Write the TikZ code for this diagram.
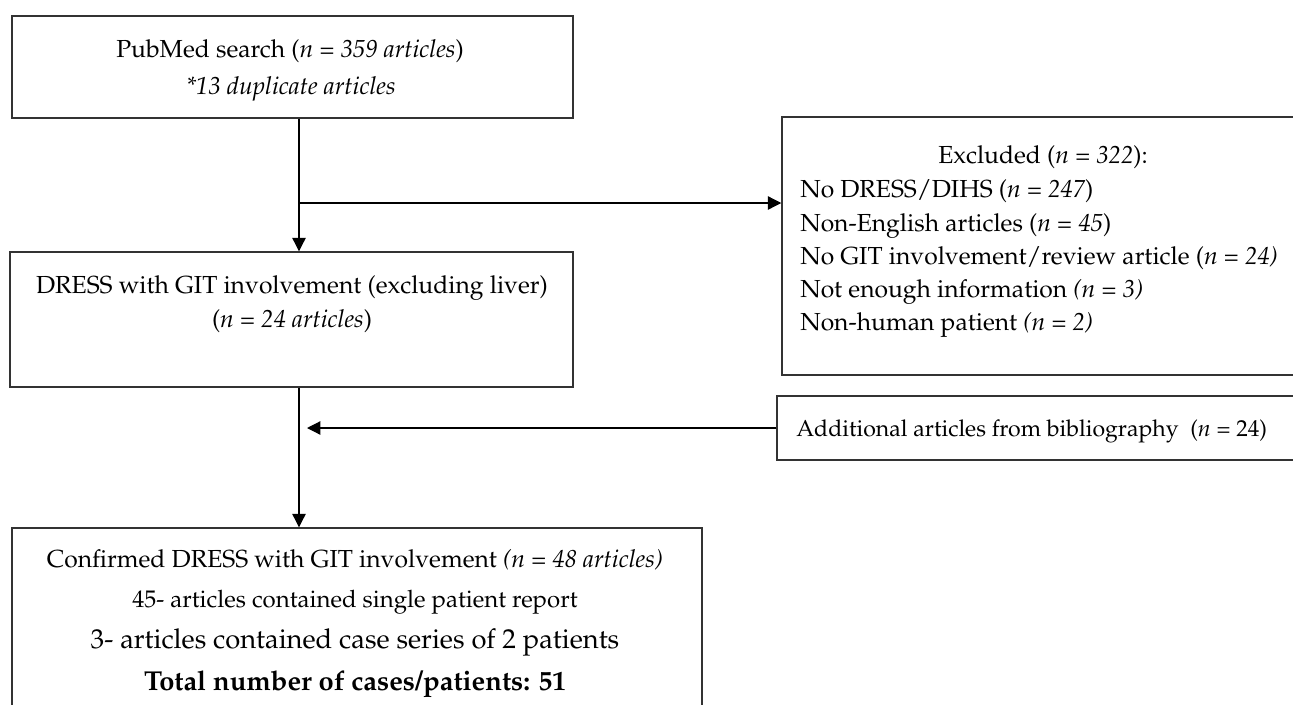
\documentclass[tikz,border=0pt]{standalone}
\usepackage[T1]{fontenc}
\usepackage{mathpazo}
\usetikzlibrary{arrows.meta,calc}
\definecolor{bordc}{HTML}{333333}
\newcommand\pxbox[5]{\node[box, minimum width={(#4-#2)*0.75pt}, minimum height={(#5-#3)*0.75pt}] (#1) at ({(#2+#4)/2},{(#3+#5)/2}) {};}
\begin{document}
\begin{tikzpicture}[x=0.75pt,y=-0.75pt,
  box/.style={draw=bordc, line width=1.1pt, rectangle, inner sep=0pt},
  txt/.style={inner sep=0pt, anchor=base, font=\fontsize{18.5}{22}\selectfont, text=black},
  ltxt/.style={txt, anchor=base west},
  conn/.style={draw=black, line width=0.9pt},
  arr/.style={conn, -{Triangle[length=10pt,width=10pt]}}]
\useasboundingbox (0,0) rectangle (1293,704);
\clip (0,0) rectangle (1293,704);
\fill[white] (0,0) rectangle (1293,704);
% boxes
\pxbox{b1}{12}{16}{573}{118}
\pxbox{b2}{10}{252}{573}{387}
\pxbox{ex}{782}{117}{1300}{375}
\pxbox{ad}{777}{396}{1300}{460}
\pxbox{b3}{12}{528}{702}{712}
% texts
\node[txt] (t1a) at (290,57) {PubMed search (\textit{n = 359 articles})};
\node[txt] (t1b) at (291,94) {\textit{*13 duplicate articles}};
\node[txt] (t2a) at (292,293) {DRESS with GIT involvement (excluding liver)};
\node[txt] (t2b) at (292,327) {(\textit{n = 24 articles})};
\node[txt] (ex0) at (1043,163) {Excluded (\textit{n = 322}):};
\node[ltxt] (ex1) at (800,197) {No DRESS/DIHS (\textit{n = 247})};
\node[ltxt] (ex2) at (800,231) {Non-English articles (\textit{n = 45})};
\node[ltxt] (ex3) at (800,264) {No GIT involvement/review article (\textit{n = 24)}};
\node[ltxt] (ex4) at (800,297) {Not enough information \textit{(n = 3)}};
\node[ltxt] (ex5) at (800,330) {Non-human patient \textit{(n = 2)}};
\node[ltxt, font=\fontsize{17.3}{20}\selectfont] (adt) at (796,436) {Additional articles from bibliography\ \ (\textit{n} = 24)};
\node[txt] (c1) at (355,567) {Confirmed DRESS with GIT involvement \textit{(n = 48 articles)}};
\node[txt, font=\fontsize{18}{21}\selectfont] (c2) at (355,607) {45- articles contained single patient report};
\node[txt, font=\fontsize{20.5}{24}\selectfont] (c3) at (355,648) {3- articles contained case series of 2 patients};
\node[txt, font=\fontsize{20.5}{24}\selectfont] (c4) at (355,690) {\textbf{Total number of cases/patients: 51}};
% connectors
\coordinate (vx) at (299,0);
\coordinate (br) at (299,203);
\coordinate (ai) at (307,0);
\draw[arr] (b1.south -| vx) -- (b2.north -| vx);
\draw[arr] (br) -- (br -| ex.west);
\draw[arr] (b2.south -| vx) -- (b3.north -| vx);
\draw[arr] (ad.west) -- (ad.west -| ai);
\end{tikzpicture}
\end{document}
